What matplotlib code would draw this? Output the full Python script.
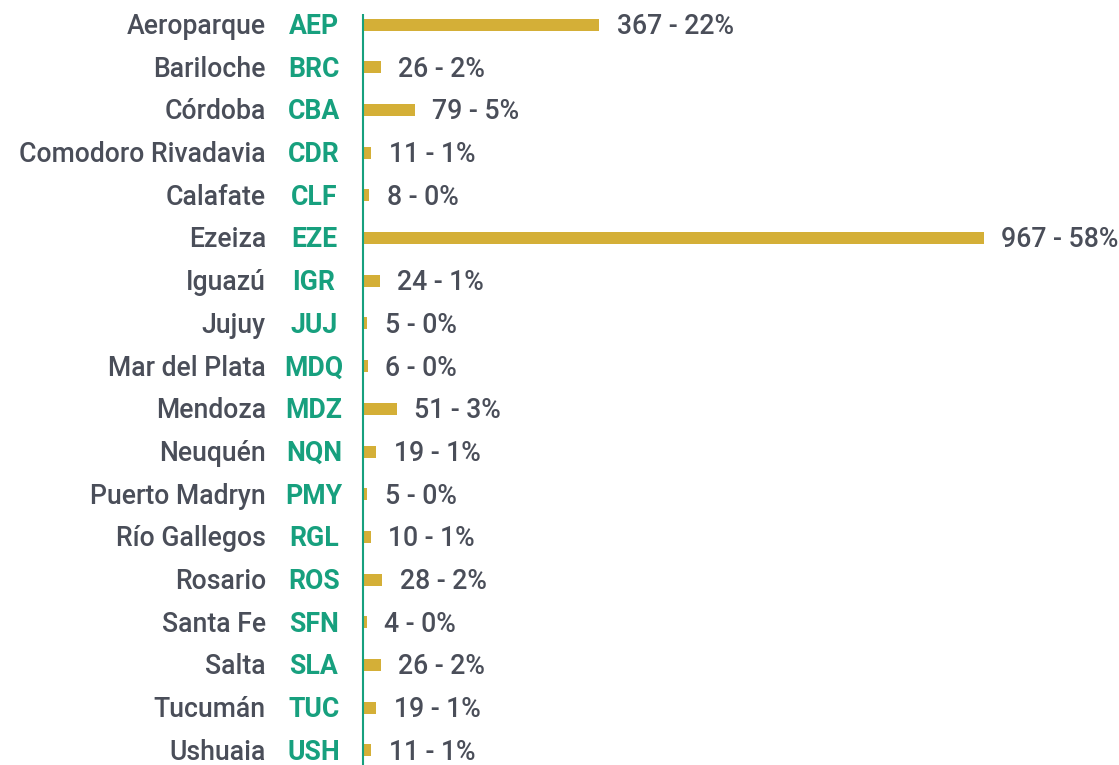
import matplotlib
matplotlib.use("Agg")
import matplotlib.pyplot as plt
from matplotlib.transforms import blended_transform_factory

names = ["Aeroparque", "Bariloche", "Córdoba", "Comodoro Rivadavia", "Calafate", "Ezeiza",
         "Iguazú", "Jujuy", "Mar del Plata", "Mendoza", "Neuquén", "Puerto Madryn",
         "Río Gallegos", "Rosario", "Santa Fe", "Salta", "Tucumán", "Ushuaia"]
codes = ["AEP", "BRC", "CBA", "CDR", "CLF", "EZE", "IGR", "JUJ", "MDQ", "MDZ", "NQN",
         "PMY", "RGL", "ROS", "SFN", "SLA", "TUC", "USH"]
values = [367, 26, 79, 11, 8, 967, 24, 5, 6, 51, 19, 5, 10, 28, 4, 26, 19, 11]
percents = [22, 2, 5, 1, 0, 58, 1, 0, 0, 3, 1, 0, 1, 2, 0, 2, 1, 1]

GOLD = "#D4AF37"
GREEN = "#17A07E"
GRAY = "#4A4E59"
FONT = "Roboto"
FS = 19.2
DY = -0.711 * FS / 2  # centre the capitals on the bar

W, H = 1119, 765
fig = plt.figure(figsize=(W / 100, H / 100), dpi=100)
ax_left = 363 / W
ax = fig.add_axes([ax_left, 0, 1 - ax_left, 1])

row = 42.7
top_px = 24.5
ax.set_ylim((H - top_px) / row, -top_px / row)
ax.set_xlim(-2, 1178)

y = list(range(len(values)))
ax.barh(y, values, height=12 / row, color=GOLD, left=0)

for i, (v, p) in enumerate(zip(values, percents)):
    ax.annotate(f"{v} - {p}%", xy=(v, i), xytext=(12.5, DY), textcoords="offset points",
                ha="left", va="baseline", fontsize=FS, color=GRAY, fontfamily=FONT,
                fontweight="medium", annotation_clip=False)

tr = blended_transform_factory(fig.transFigure, ax.transData)
for i, (n, c) in enumerate(zip(names, codes)):
    ax.annotate(n, xy=(266 / W, i), xycoords=tr, xytext=(0, DY), textcoords="offset points",
                ha="right", va="baseline", fontsize=FS, color=GRAY, fontfamily=FONT,
                fontweight="medium", annotation_clip=False)
    ax.annotate(c, xy=(314 / W, i), xycoords=tr, xytext=(0, DY), textcoords="offset points",
                ha="center", va="baseline", fontsize=FS, color=GREEN, fontfamily=FONT,
                fontweight="bold", annotation_clip=False)

ax.plot([-1.5, -1.5], [(14 - top_px) / row, (H - top_px) / row], color=GREEN, lw=1.5,
        clip_on=False, solid_capstyle="butt")

for s in ax.spines.values():
    s.set_visible(False)
ax.set_xticks([])
ax.set_yticks([])
ax.patch.set_alpha(0)

fig.savefig("out.png", dpi=100, facecolor="white")
